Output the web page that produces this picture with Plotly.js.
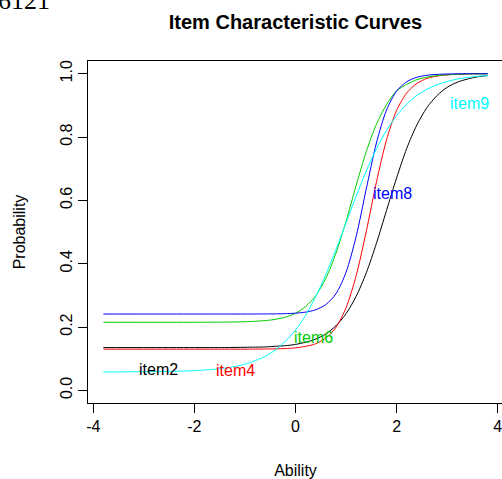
<!DOCTYPE html>
<html>
<head>
<meta charset="utf-8">
<script src="https://cdn.plot.ly/plotly-3.0.1.min.js"></script>
<style>
html,body{margin:0;padding:0;overflow:hidden;background:#fff;}
#chart{width:506px;height:479px;}
</style>
</head>
<body>
<div id="chart"></div>
<script>
// Ability grid (x values)
const ability = [-3.8,-3,-2,-1.4,-1.0,-0.6,-0.4,-0.2,0,0.2,0.4,0.6,0.8,1.0,1.2,1.4,1.6,1.8,2.0,2.2,2.4,2.6,2.8,3.0,3.2,3.4,3.6,3.8];

// Probabilities
const item2 = [0.135,0.135,0.135,0.135,0.136,0.137,0.139,0.141,0.145,0.152,0.162,0.178,0.204,0.242,0.297,0.371,0.464,0.568,0.671,0.764,0.838,0.893,0.931,0.957,0.973,0.983,0.990,0.994];
const item4 = [0.130,0.130,0.130,0.130,0.130,0.1305,0.131,0.132,0.134,0.139,0.147,0.165,0.199,0.261,0.362,0.502,0.657,0.791,0.884,0.939,0.969,0.985,0.9925,0.996,0.998,0.999,0.9995,0.9998];
const item6 = [0.215,0.215,0.215,0.2155,0.2166,0.2202,0.2242,0.2312,0.2435,0.2645,0.299,0.354,0.433,0.534,0.647,0.754,0.840,0.902,0.946,0.966,0.981,0.989,0.994,0.9965,0.998,0.999,0.9994,0.9996];
const item8 = [0.241,0.241,0.241,0.241,0.241,0.2412,0.2415,0.2422,0.2436,0.247,0.2544,0.2708,0.305,0.373,0.486,0.636,0.781,0.885,0.945,0.9745,0.9885,0.9949,0.9977,0.999,0.9995,0.9998,0.9999,1.0];
const item9 = [0.0582,0.0587,0.0621,0.070,0.0826,0.107,0.1274,0.1546,0.1904,0.237,0.2957,0.3656,0.4447,0.529,0.6133,0.6924,0.7623,0.8207,0.8676,0.9036,0.9308,0.9506,0.9651,0.9754,0.9828,0.9879,0.9916,0.9942];

const itemNames = ["item2","item4","item6","item8","item9"];
const itemColors = ["#000000","#FF0000","#00CD00","#0000FF","#00FFFF"];
const itemSeries = [item2,item4,item6,item8,item9];

// Label positions (ability, probability)
const labelX = [-2.71,-1.19,0.36,1.91,3.44];
const labelY = [0.067,0.062,0.167,0.621,0.907];

const xTickVals = [-4,-2,0,2,4];
const xTickText = ["-4","-2","0","2","4"];
const yTickVals = [0,0.2,0.4,0.6,0.8,1.0];
const yTickText = ["0.0","0.2","0.4","0.6","0.8","1.0"];

const traces = itemSeries.map((ys,i)=>({
  x: ability, y: ys, type:'scatter', mode:'lines', name:itemNames[i],
  line:{color:itemColors[i], width:1, shape:'spline', smoothing:0.8},
  hoverinfo:'skip', showlegend:false
}));

const font = "Liberation Sans, Arial, sans-serif";
const annotations = itemNames.map((n,i)=>({
  x: labelX[i], y: labelY[i], xref:'x', yref:'y', text:n, showarrow:false,
  font:{family:font, size:16, color:itemColors[i]}, xanchor:'center', yanchor:'middle'
}));
annotations.push({
  text:"6121", xref:'paper', yref:'paper', x:(-4-88)/415, y:(403.3-17)/342.3,
  xanchor:'left', yanchor:'bottom', showarrow:false,
  font:{family:"Liberation Serif, Times New Roman, serif", size:26, color:'#000'}
});

const layout = {
  width:506, height:479,
  margin:{l:88, r:3, t:61, b:76, pad:0},
  paper_bgcolor:'#fff', plot_bgcolor:'#fff',
  font:{family:font, size:16, color:'#000'},
  title:{text:"<b>Item Characteristic Curves</b>", font:{family:font, size:20, color:'#000'},
         xref:'paper', x:0.5, xanchor:'center', yref:'container', y:1-22/479, yanchor:'middle'},
  xaxis:{range:[-4.104,4.104], tickvals:xTickVals, ticktext:xTickText,
         showline:true, mirror:true, linecolor:'#000', linewidth:1,
         ticks:'outside', ticklen:9, tickwidth:1, tickcolor:'#000',
         showgrid:false, zeroline:false, tickfont:{family:font,size:16,color:'#000'},
         title:{text:"Ability", font:{family:font,size:16,color:'#000'}, standoff:31}},
  yaxis:{range:[-0.04,1.04], tickvals:yTickVals, ticktext:yTickText, tickangle:-90,
         showline:true, mirror:true, linecolor:'#000', linewidth:1,
         ticks:'outside', ticklen:9, tickwidth:1, tickcolor:'#000',
         showgrid:false, zeroline:false, tickfont:{family:font,size:16,color:'#000'},
         title:{text:"Probability", font:{family:font,size:16,color:'#000'}, standoff:27}},
  annotations: annotations
};

Plotly.newPlot('chart', traces, layout, {displayModeBar:false, staticPlot:true});
</script>
</body>
</html>
